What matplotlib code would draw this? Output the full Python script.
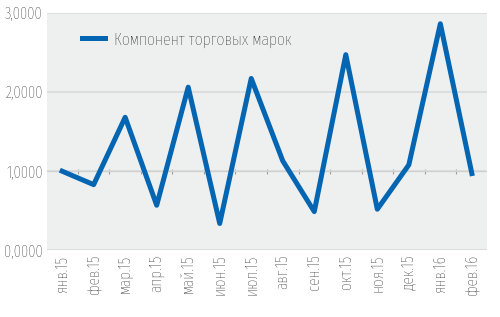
import numpy as np
import matplotlib.pyplot as plt
from matplotlib.ticker import FuncFormatter

# data
months = ['янв.15', 'фев.15', 'мар.15', 'апр.15', 'май.15', 'июн.15', 'июл.15',
          'авг.15', 'сен.15', 'окт.15', 'ноя.15', 'дек.15', 'янв.16', 'фев.16']
values = [1.00, 0.83, 1.68, 0.57, 2.06, 0.34, 2.17,
          1.13, 0.49, 2.47, 0.52, 1.08, 2.86, 0.97]
series_name = 'Компонент торговых марок'
y_ticks = [0, 1, 2, 3]

plt.rcParams['font.family'] = ['Fira Sans Extra Condensed', 'Roboto Condensed', 'DejaVu Sans']
plt.rcParams['font.weight'] = 'light'

fig = plt.figure(figsize=(5, 3.17), dpi=100)
ax = fig.add_axes([0.094, 0.21, 0.88, 0.75])
ax.set_facecolor('#eef0f0')

x = np.arange(len(months))
ax.plot(x, values, color='#0465b2', lw=3.6, solid_joinstyle='round', label=series_name, zorder=3)

ax.set_xlim(-0.48, len(months) - 0.52)
ax.set_ylim(0, 3)
ax.set_yticks(y_ticks)
ax.yaxis.set_major_formatter(FuncFormatter(lambda v, p: f'{v:.4f}'.replace('.', ',')))
ax.grid(axis='y', color='#d8dadb', lw=1.2, zorder=0)

# horizontal axis line at 1 with small category separators
ax.axhline(1, color='#a0a0a0', lw=0.8, zorder=1)
ax.vlines(x[:-1] + 0.5, 0.97, 1.03, color='#a0a0a0', lw=0.8, zorder=1)

ax.set_xticks(x)
ax.set_xticklabels(months, rotation=90)
ax.tick_params(axis='x', length=0, labelsize=12, colors='#1a1a1a', pad=3)
ax.tick_params(axis='y', length=0, labelsize=11.5, colors='#1a1a1a', pad=3)
for s in ax.spines.values():
    s.set_visible(False)

ax.legend(loc='upper left', frameon=False, fontsize=12.5, handlelength=1.3, handletextpad=0.5,
          bbox_to_anchor=(0.045, 0.985), labelcolor='#1a1a1a')

fig.savefig('out.png', dpi=100)
